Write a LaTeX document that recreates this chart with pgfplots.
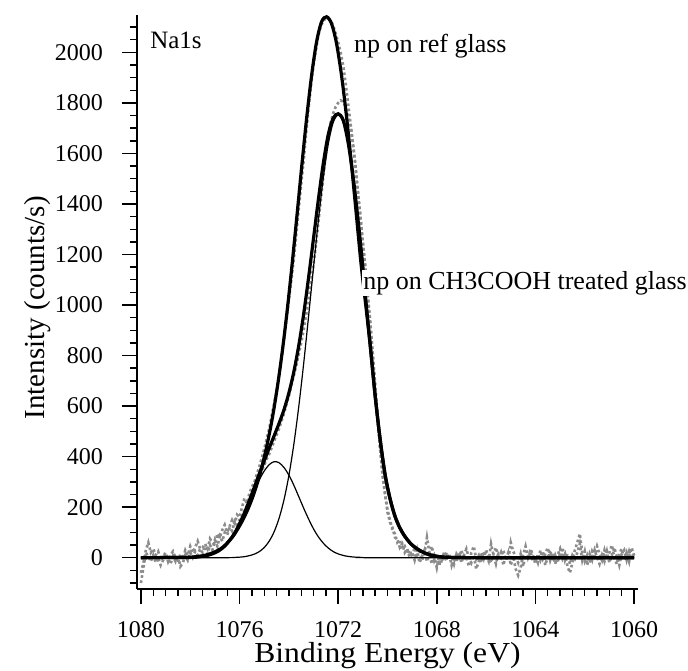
\documentclass[border=0pt]{standalone}
\usepackage{fontspec}
\setmainfont{Liberation Serif}
\usepackage{pgfplots}
\pgfplotsset{compat=1.18}
\definecolor{dotgray}{RGB}{140,140,140}
\begin{document}
\begin{tikzpicture}
\useasboundingbox (-137pt,-82pt) rectangle (551pt,589pt);
\begin{axis}[
 scale only axis, width=501pt, height=574pt,
 x dir=reverse, xmin=1059.84, xmax=1080.16, ymin=-124, ymax=2148,
 axis x line*=bottom, axis y line*=left,
 axis line style={line width=1.6pt},
 tick align=outside,
 major tick length=15pt, minor tick length=7pt,
 every major tick/.append style={line width=1.6pt, black},
 every minor tick/.append style={line width=1.4pt, black},
 xtick={1060,1064,...,1080}, minor xtick={1060,1060.5,...,1080},
 ytick={0,200,...,2000}, minor ytick={-100,-50,...,2150},
 tick label style={font=\fontsize{24}{24}\selectfont, inner sep=0pt},
 xticklabel style={yshift=-17pt},
 yticklabel style={xshift=-19pt},
 /pgf/number format/assume math mode=true, /pgf/number format/1000 sep={},
 xlabel={Binding Energy (eV)}, ylabel={Intensity (counts/s)},
 xlabel style={font=\fontsize{29}{29}\selectfont, at={(axis description cs:0.5,-0.1165)}, anchor=center, inner sep=0pt, xscale=1.09},
 ylabel style={font=\fontsize{29}{29}\selectfont, at={(axis description cs:-0.1976,0.49)}, anchor=center, inner sep=0pt},
 clip mode=individual,
]
% ref glass data
\addplot[dotgray, line width=2.6pt, dash pattern=on 2.6pt off 2.6pt] table[row sep=\\] {x y\\
1080.0 -60\\ 1079.9 -20\\ 1079.8 30\\ 1079.7 60\\ 1079.6 20\\ 1079.5 35\\ 1079.4 10\\ 1079.3 25\\ 1079.2 -10\\ 1079.1 5\\
1079.0 20\\ 1078.9 -15\\ 1078.8 10\\ 1078.7 25\\ 1078.6 0\\ 1078.5 -20\\ 1078.4 15\\ 1078.3 -5\\ 1078.2 30\\ 1078.1 10\\
1078.0 45\\ 1077.9 20\\ 1077.8 40\\ 1077.7 65\\ 1077.6 35\\ 1077.5 40\\ 1077.4 55\\ 1077.3 35\\ 1077.2 75\\ 1077.1 60\\
1077.0 50\\ 1076.9 95\\ 1076.8 80\\ 1076.7 110\\ 1076.6 130\\ 1076.5 100\\ 1076.4 125\\ 1076.3 150\\ 1076.2 135\\ 1076.1 170\\
1076.0 160\\ 1075.9 200\\ 1075.8 235\\ 1075.7 215\\ 1075.6 255\\ 1075.5 280\\ 1075.4 300\\ 1075.3 330\\ 1075.2 360\\ 1075.1 395\\
1075.0 430\\ 1074.9 470\\ 1074.8 510\\ 1074.7 560\\ 1074.6 610\\ 1074.5 660\\ 1074.4 720\\ 1074.3 790\\ 1074.2 860\\ 1074.1 940\\
1074.0 1020\\ 1073.9 1100\\ 1073.8 1180\\ 1073.7 1280\\ 1073.6 1380\\ 1073.5 1480\\ 1073.4 1570\\ 1073.3 1680\\ 1073.2 1780\\ 1073.1 1870\\
1073.0 1950\\ 1072.9 2010\\ 1072.8 2070\\ 1072.7 2105\\ 1072.6 2125\\ 1072.5 2135\\ 1072.4 2135\\ 1072.3 2125\\ 1072.2 2105\\ 1072.1 2075\\
1072.0 2040\\ 1071.9 2000\\ 1071.8 1950\\ 1071.7 1880\\ 1071.6 1800\\ 1071.5 1720\\ 1071.4 1640\\ 1071.3 1550\\ 1071.2 1450\\ 1071.1 1350\\
1071.0 1250\\ 1070.9 1150\\ 1070.8 1040\\ 1070.7 930\\ 1070.6 810\\ 1070.5 680\\ 1070.4 550\\ 1070.3 430\\ 1070.2 330\\ 1070.1 250\\
1070.0 190\\ 1069.9 150\\ 1069.8 110\\ 1069.7 95\\ 1069.6 60\\ 1069.5 70\\ 1069.4 35\\ 1069.3 45\\ 1069.2 15\\ 1069.1 30\\
1069.0 5\\ 1068.9 40\\ 1068.8 10\\ 1068.7 25\\ 1068.6 -10\\ 1068.5 15\\ 1068.4 80\\ 1068.3 20\\ 1068.2 45\\ 1068.1 -10\\
1068.0 15\\ 1067.9 -30\\ 1067.8 5\\ 1067.7 -15\\ 1067.6 20\\ 1067.5 -5\\ 1067.4 10\\ 1067.3 -25\\ 1067.2 15\\ 1067.1 0\\
1067.0 30\\ 1066.9 -10\\ 1066.8 5\\ 1066.7 -35\\ 1066.6 20\\ 1066.5 45\\ 1066.4 -5\\ 1066.3 10\\ 1066.2 -20\\ 1066.1 25\\
1066.0 5\\ 1065.9 -15\\ 1065.8 55\\ 1065.7 10\\ 1065.6 -25\\ 1065.5 15\\ 1065.4 0\\ 1065.3 30\\ 1065.2 -10\\ 1065.1 20\\
1065.0 -30\\ 1064.9 5\\ 1064.8 -45\\ 1064.7 -70\\ 1064.6 -40\\ 1064.5 10\\ 1064.4 45\\ 1064.3 0\\ 1064.2 25\\ 1064.1 -15\\
1064.0 5\\ 1063.9 -20\\ 1063.8 30\\ 1063.7 -5\\ 1063.6 15\\ 1063.5 40\\ 1063.4 -10\\ 1063.3 20\\ 1063.2 -25\\ 1063.1 10\\
1063.0 35\\ 1062.9 -5\\ 1062.8 15\\ 1062.7 -35\\ 1062.6 -60\\ 1062.5 -20\\ 1062.4 30\\ 1062.3 60\\ 1062.2 95\\ 1062.1 20\\
1062.0 -15\\ 1061.9 10\\ 1061.8 -20\\ 1061.7 25\\ 1061.6 5\\ 1061.5 45\\ 1061.4 15\\ 1061.3 -10\\ 1061.2 30\\ 1061.1 -5\\
1061.0 20\\ 1060.9 50\\ 1060.8 0\\ 1060.7 -25\\ 1060.6 15\\ 1060.5 35\\ 1060.4 -10\\ 1060.3 20\\ 1060.2 -15\\ 1060.1 40\\
1060.0 10\\
};
% CH3COOH treated glass data
\addplot[dotgray, line width=2.6pt, dash pattern=on 2.6pt off 2.6pt] table[row sep=\\] {x y\\
1080.0 -100\\ 1079.9 -40\\ 1079.8 20\\ 1079.7 5\\ 1079.6 -15\\ 1079.5 10\\ 1079.4 -20\\ 1079.3 0\\ 1079.2 -30\\ 1079.1 -10\\
1079.0 15\\ 1078.9 -5\\ 1078.8 -25\\ 1078.7 5\\ 1078.6 -15\\ 1078.5 10\\ 1078.4 -35\\ 1078.3 -20\\ 1078.2 10\\ 1078.1 -10\\
1078.0 20\\ 1077.9 0\\ 1077.8 25\\ 1077.7 10\\ 1077.6 35\\ 1077.5 20\\ 1077.4 45\\ 1077.3 15\\ 1077.2 50\\ 1077.1 30\\
1077.0 70\\ 1076.9 45\\ 1076.8 85\\ 1076.7 65\\ 1076.6 100\\ 1076.5 90\\ 1076.4 120\\ 1076.3 105\\ 1076.2 145\\ 1076.1 130\\
1076.0 150\\ 1075.9 165\\ 1075.8 185\\ 1075.7 205\\ 1075.6 225\\ 1075.5 250\\ 1075.4 270\\ 1075.3 295\\ 1075.2 320\\ 1075.1 345\\
1075.0 365\\ 1074.9 390\\ 1074.8 410\\ 1074.7 435\\ 1074.6 460\\ 1074.5 485\\ 1074.4 510\\ 1074.3 540\\ 1074.2 570\\ 1074.1 605\\
1074.0 640\\ 1073.9 680\\ 1073.8 720\\ 1073.7 760\\ 1073.6 805\\ 1073.5 850\\ 1073.4 900\\ 1073.3 960\\ 1073.2 1020\\ 1073.1 1090\\
1073.0 1160\\ 1072.9 1240\\ 1072.8 1330\\ 1072.7 1420\\ 1072.6 1510\\ 1072.5 1600\\ 1072.4 1670\\ 1072.3 1725\\ 1072.2 1760\\ 1072.1 1785\\
1072.0 1800\\ 1071.9 1810\\ 1071.8 1805\\ 1071.7 1785\\ 1071.6 1750\\ 1071.5 1710\\ 1071.4 1635\\ 1071.3 1555\\ 1071.2 1445\\ 1071.1 1355\\
1071.0 1245\\ 1070.9 1155\\ 1070.8 1035\\ 1070.7 935\\ 1070.6 805\\ 1070.5 685\\ 1070.4 545\\ 1070.3 435\\ 1070.2 325\\ 1070.1 255\\
1070.0 180\\ 1069.9 140\\ 1069.8 120\\ 1069.7 80\\ 1069.6 75\\ 1069.5 40\\ 1069.4 55\\ 1069.3 20\\ 1069.2 35\\ 1069.1 0\\
1069.0 20\\ 1068.9 -10\\ 1068.8 30\\ 1068.7 -20\\ 1068.6 5\\ 1068.5 30\\ 1068.4 -15\\ 1068.3 10\\ 1068.2 -25\\ 1068.1 5\\
1068.0 -40\\ 1067.9 10\\ 1067.8 -20\\ 1067.7 25\\ 1067.6 -10\\ 1067.5 15\\ 1067.4 -30\\ 1067.3 5\\ 1067.2 -15\\ 1067.1 20\\
1067.0 -20\\ 1066.9 10\\ 1066.8 35\\ 1066.7 0\\ 1066.6 -20\\ 1066.5 10\\ 1066.4 -45\\ 1066.3 -15\\ 1066.2 20\\ 1066.1 -5\\
1066.0 30\\ 1065.9 0\\ 1065.8 -20\\ 1065.7 15\\ 1065.6 40\\ 1065.5 -5\\ 1065.4 20\\ 1065.3 -30\\ 1065.2 10\\ 1065.1 -10\\
1065.0 60\\ 1064.9 25\\ 1064.8 5\\ 1064.7 -20\\ 1064.6 15\\ 1064.5 -35\\ 1064.4 10\\ 1064.3 -5\\ 1064.2 35\\ 1064.1 10\\
1064.0 -25\\ 1063.9 15\\ 1063.8 -10\\ 1063.7 25\\ 1063.6 -30\\ 1063.5 5\\ 1063.4 30\\ 1063.3 -15\\ 1063.2 10\\ 1063.1 -20\\
1063.0 20\\ 1062.9 40\\ 1062.8 -10\\ 1062.7 15\\ 1062.6 -25\\ 1062.5 10\\ 1062.4 -5\\ 1062.3 20\\ 1062.2 55\\ 1062.1 -10\\
1062.0 25\\ 1061.9 -30\\ 1061.8 15\\ 1061.7 -10\\ 1061.6 30\\ 1061.5 0\\ 1061.4 -25\\ 1061.3 10\\ 1061.2 -15\\ 1061.1 25\\
1061.0 -20\\ 1060.9 10\\ 1060.8 40\\ 1060.7 5\\ 1060.6 -30\\ 1060.5 15\\ 1060.4 30\\ 1060.3 -10\\ 1060.2 25\\ 1060.1 -5\\
1060.0 15\\
};
% thin components (CH3COOH fit)
\addplot[black, line width=1.2pt, smooth] table[row sep=\\] {x y\\
1080 0\\ 1078.0 0\\ 1077.6 4\\ 1077.3 9\\ 1077.0 19\\ 1076.8 30\\ 1076.6 46\\ 1076.4 69\\ 1076.2 97\\ 1076.0 133\\
1075.8 174\\ 1075.6 219\\ 1075.4 265\\ 1075.2 308\\ 1075.0 343\\ 1074.8 368\\ 1074.6 380\\ 1074.4 376\\ 1074.2 357\\ 1074.0 327\\
1073.8 287\\ 1073.6 242\\ 1073.4 196\\ 1073.2 153\\ 1073.0 114\\ 1072.8 82\\ 1072.6 57\\ 1072.4 38\\ 1072.2 24\\ 1072.0 15\\
1071.8 9\\ 1071.6 5\\ 1071.3 2\\ 1071.0 1\\ 1070.5 0\\ 1060 0\\
};
\addplot[black, line width=1.2pt, smooth] table[row sep=\\] {x y\\
1080 0\\ 1076.6 0\\ 1076.2 1\\ 1076.0 2\\ 1075.8 4\\ 1075.6 8\\ 1075.4 14\\ 1075.2 24\\ 1075.0 40\\ 1074.8 65\\
1074.6 102\\ 1074.4 155\\ 1074.2 228\\ 1074.0 325\\ 1073.8 448\\ 1073.6 597\\ 1073.4 768\\ 1073.2 956\\ 1073.0 1150\\ 1072.8 1338\\
1072.6 1506\\ 1072.4 1638\\ 1072.2 1723\\ 1072.0 1752\\ 1071.8 1723\\ 1071.6 1638\\ 1071.4 1506\\ 1071.2 1338\\ 1071.0 1150\\ 1070.87 1010\\
1070.7 840\\ 1070.5 640\\ 1070.3 470\\ 1070.1 330\\ 1069.9 235\\ 1069.7 165\\ 1069.5 118\\ 1069.3 85\\ 1069.1 60\\ 1068.9 42\\
1068.7 29\\ 1068.5 19\\ 1068.3 12\\ 1068.1 7\\ 1067.8 3\\ 1067.4 1\\ 1066.0 0\\ 1060 0\\
};
% thick envelope, ref glass
\addplot[black, line width=3.2pt, smooth] table[row sep=\\] {x y\\
1080 0\\ 1078.2 1\\ 1077.77 4\\ 1077.47 8\\ 1077.27 13\\ 1077.07 20\\ 1076.87 29\\ 1076.67 42\\ 1076.47 61\\ 1076.27 84\\
1076.07 114\\ 1075.87 149\\ 1075.67 190\\ 1075.47 239\\ 1075.27 298\\ 1075.07 369\\ 1074.87 453\\ 1074.67 553\\ 1074.47 673\\ 1074.27 814\\
1074.07 977\\ 1073.87 1160\\ 1073.67 1356\\ 1073.47 1557\\ 1073.27 1748\\ 1073.07 1915\\ 1072.87 2045\\ 1072.67 2122\\ 1072.47 2141\\ 1072.27 2114\\
1072.07 2037\\ 1071.87 1913\\ 1071.67 1753\\ 1071.47 1566\\ 1071.27 1365\\ 1071.07 1161\\ 1070.87 990\\ 1070.7 840\\ 1070.5 640\\ 1070.3 470\\
1070.1 330\\ 1069.9 235\\ 1069.7 165\\ 1069.5 118\\ 1069.3 85\\ 1069.1 60\\ 1068.9 42\\ 1068.7 29\\ 1068.5 19\\ 1068.3 12\\
1068.1 7\\ 1067.8 3\\ 1067.4 1\\ 1066.0 0\\ 1060 0\\
};
% thick envelope, CH3COOH treated glass
\addplot[black, line width=3.2pt, smooth] table[row sep=\\] {x y\\
1080 0\\ 1078.0 1\\ 1077.6 4\\ 1077.3 9\\ 1077.0 19\\ 1076.8 30\\ 1076.6 46\\ 1076.4 69\\ 1076.2 97\\ 1076.0 135\\
1075.8 178\\ 1075.6 227\\ 1075.4 279\\ 1075.2 332\\ 1075.0 383\\ 1074.8 433\\ 1074.6 482\\ 1074.4 531\\ 1074.2 585\\ 1074.0 652\\
1073.8 735\\ 1073.6 839\\ 1073.4 964\\ 1073.2 1109\\ 1073.0 1264\\ 1072.8 1420\\ 1072.6 1563\\ 1072.4 1676\\ 1072.2 1740\\ 1072.0 1757\\
1071.8 1733\\ 1071.6 1645\\ 1071.4 1512\\ 1071.2 1342\\ 1071.0 1152\\ 1070.87 1010\\ 1070.7 840\\ 1070.5 640\\ 1070.3 470\\ 1070.1 330\\
1069.9 235\\ 1069.7 165\\ 1069.5 118\\ 1069.3 85\\ 1069.1 60\\ 1068.9 42\\ 1068.7 29\\ 1068.5 19\\ 1068.3 12\\ 1068.1 7\\
1067.8 3\\ 1067.4 1\\ 1066.0 0\\ 1060 0\\
};
\node[anchor=west, inner sep=0pt, font=\fontsize{25}{25}\selectfont] at (axis cs:1079.63,2049) {Na1s};
\node[anchor=west, inner sep=0pt, font=\fontsize{26}{26}\selectfont] at (axis cs:1071.36,2025) {np on ref glass};
\node[anchor=west, inner sep=1pt, fill=white, font=\fontsize{26}{26}\selectfont] at (axis cs:1071.03,1087) {np on CH3COOH treated glass};
\end{axis}
\end{tikzpicture}
\end{document}
